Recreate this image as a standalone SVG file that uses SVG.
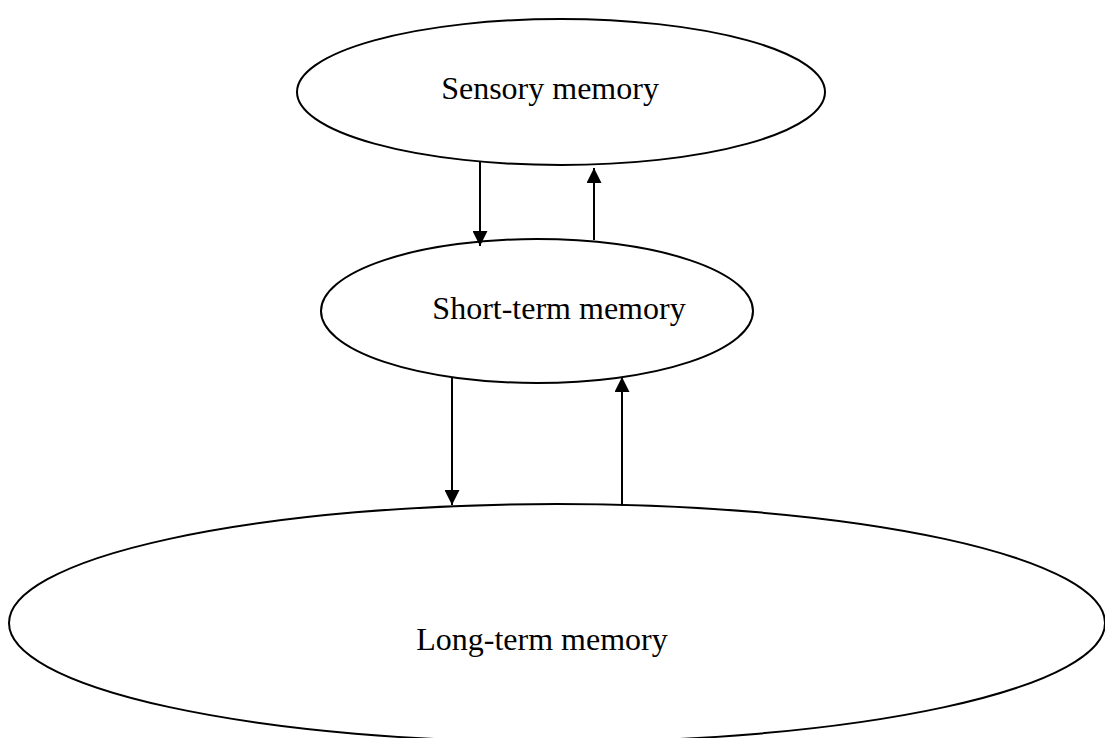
<svg xmlns="http://www.w3.org/2000/svg" width="1105" height="738" viewBox="0 0 1105 738">
<style>
.node{fill:#fff;stroke:#000;stroke-width:2}
.lbl{font-family:"Liberation Serif","Times New Roman",serif;font-size:32px;fill:#000;text-anchor:middle}
.conn line{stroke:#000;stroke-width:2}
</style>
<defs>
<marker id="ah" viewBox="0 0 15 15" refX="15" refY="7.5" markerWidth="15" markerHeight="15" markerUnits="userSpaceOnUse" orient="auto">
<path d="M0,0 L15,7.5 L0,15 z" fill="#000"/>
</marker>
</defs>
<rect width="1105" height="738" fill="#fff"/>
<g id="sensory">
<ellipse class="node" cx="561" cy="92" rx="264" ry="73"/>
<text class="lbl" x="550" y="99">Sensory memory</text>
</g>
<g id="short-term">
<ellipse class="node" cx="537" cy="311" rx="216" ry="72"/>
<text class="lbl" x="559" y="319">Short-term memory</text>
</g>
<g id="long-term">
<ellipse class="node" cx="557" cy="623" rx="548" ry="119"/>
<text class="lbl" x="542" y="650">Long-term memory</text>
</g>
<g id="connectors" class="conn">
<line x1="480" y1="161" x2="480" y2="246" marker-end="url(#ah)"/>
<line x1="594" y1="240" x2="594" y2="168" marker-end="url(#ah)"/>
<line x1="452" y1="378" x2="452" y2="505" marker-end="url(#ah)"/>
<line x1="622" y1="506" x2="622" y2="377" marker-end="url(#ah)"/>
</g>
</svg>
